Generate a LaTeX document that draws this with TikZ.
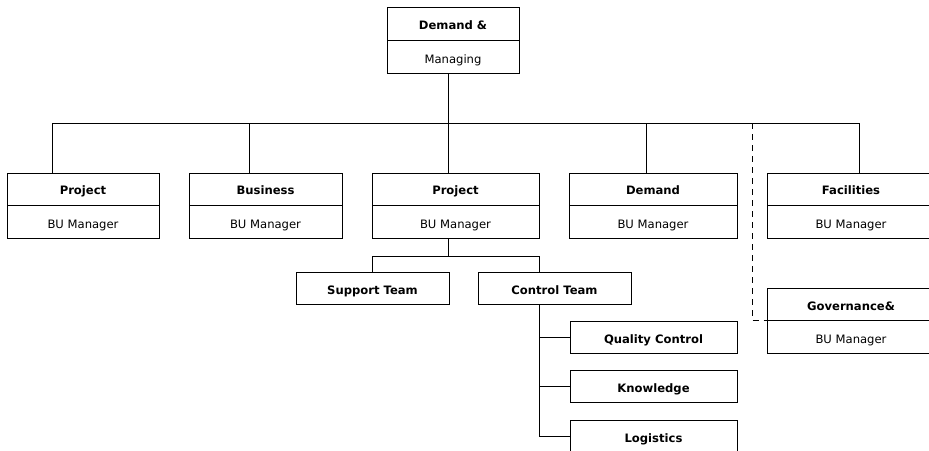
\documentclass[tikz,border=0pt]{standalone}
\usepackage{fontspec}
\setmainfont{DejaVu Sans}
\usetikzlibrary{calc}

% text styles for box titles and role lines
\newcommand\titlefont{\fontsize{11.6}{14}\selectfont\bfseries}
\newcommand\rolefont{\fontsize{11.6}{14}\selectfont}

% place a text line in a box, cut just below its baseline
% #1 text node name, #2 box node, #3 baseline depth below box top, #4 font, #5 text
\newcommand\boxtext[5]{%
  \coordinate (#1-base) at ([yshift=-#3pt]#2.north);
  \begin{scope}
    \clip ([shift={(-100pt,16pt)}]#1-base) rectangle ([shift={(100pt,-2.5pt)}]#1-base);
    \node[anchor=base, inner sep=0pt, font=#4] (#1) at (#1-base) {#5};
  \end{scope}}

\tikzset{
  box/.style={draw=black, line width=1pt, fill=white, inner sep=0pt, outer sep=0pt, anchor=north west},
  link/.style={draw=black, line width=1pt},
  dotlink/.style={draw=black, line width=1pt, dash pattern=on 6pt off 5pt}
}

\begin{document}
\begin{tikzpicture}[x=1pt, y=-1pt]
  \useasboundingbox (0,0) rectangle (929,450);
  \fill[white] (0,0) rectangle (929,450);
  \clip (0,0) rectangle (929,450);

  % junction points of the connector buses
  \coordinate (hub) at (448,123);
  \coordinate (dtop) at (752,123);
  \coordinate (sub) at (448,256);

  % boxes
  \node[box, minimum width=132pt, minimum height=66pt] (top) at (387,7) {};
  \node[box, minimum width=152pt, minimum height=65pt] (p1) at (7,173) {};
  \node[box, minimum width=153pt, minimum height=65pt] (p2) at (189,173) {};
  \node[box, minimum width=167pt, minimum height=65pt] (p3) at (372,173) {};
  \node[box, minimum width=168pt, minimum height=65pt] (p4) at (569,173) {};
  \node[box, minimum width=168pt, minimum height=65pt] (p5) at (767,173) {};
  \node[box, minimum width=153pt, minimum height=32pt] (sup) at (296,272) {};
  \node[box, minimum width=153pt, minimum height=32pt] (ctl) at (478,272) {};
  \node[box, minimum width=168pt, minimum height=65pt] (gov) at (767,288) {};
  \node[box, minimum width=167pt, minimum height=32pt] (qc) at (570,321) {};
  \node[box, minimum width=167pt, minimum height=32pt] (know) at (570,370) {};
  \node[box, minimum width=167pt, minimum height=32pt] (logi) at (570,420) {};

  % dividers of the two-line boxes
  \foreach \b in {top,p1,p2,p3,p4,p5,gov}
    \draw[link] (\b.west) -- (\b.east);

  % texts
  \boxtext{topT}{top}{22}{\titlefont}{Demand \&}
  \boxtext{topR}{top}{56}{\rolefont}{Managing}
  \boxtext{p1T}{p1}{21.5}{\titlefont}{Project}
  \boxtext{p1R}{p1}{55}{\rolefont}{BU Manager}
  \boxtext{p2T}{p2}{21.5}{\titlefont}{Business}
  \boxtext{p2R}{p2}{55}{\rolefont}{BU Manager}
  \boxtext{p3T}{p3}{21.5}{\titlefont}{Project}
  \boxtext{p3R}{p3}{55}{\rolefont}{BU Manager}
  \boxtext{p4T}{p4}{21.5}{\titlefont}{Demand}
  \boxtext{p4R}{p4}{55}{\rolefont}{BU Manager}
  \boxtext{p5T}{p5}{21.5}{\titlefont}{Facilities}
  \boxtext{p5R}{p5}{55}{\rolefont}{BU Manager}
  \boxtext{govT}{gov}{22.5}{\titlefont}{Governance\&}
  \boxtext{govR}{gov}{55}{\rolefont}{BU Manager}
  \boxtext{supT}{sup}{22}{\titlefont}{Support Team}
  \boxtext{ctlT}{ctl}{22}{\titlefont}{Control Team}
  \boxtext{qcT}{qc}{22}{\titlefont}{Quality Control}
  \boxtext{knowT}{know}{22}{\titlefont}{Knowledge}
  \boxtext{logiT}{logi}{22}{\titlefont}{Logistics}

  % top level bus
  \draw[link] ([xshift=-5pt]top.south) -- (hub);
  \draw[link] ([xshift=-31pt]p1.north) |- ([xshift=8pt]p5.north |- hub) -- ([xshift=8pt]p5.north);
  \foreach \n/\s in {p2/-16.5, p3/-7.5, p4/-7}
    \draw[link] ([xshift=\s pt]\n.north) -- ([xshift=\s pt]\n.north |- hub);

  % dotted-line report
  \draw[dotlink] (dtop) |- (gov.west);

  % teams under the central project box
  \draw[link] ([xshift=-7.5pt]p3.south) -- (sub);
  \draw[link] (sup.north) |- ([xshift=-15.5pt]ctl.north |- sub) -- ([xshift=-15.5pt]ctl.north);

  % units under the control team
  \coordinate (cv) at ([xshift=-15.5pt]ctl.south);
  \draw[link] (cv) |- (logi.west);
  \draw[link] (qc.west) -- (qc.west -| cv);
  \draw[link] (know.west) -- (know.west -| cv);
\end{tikzpicture}
\end{document}
